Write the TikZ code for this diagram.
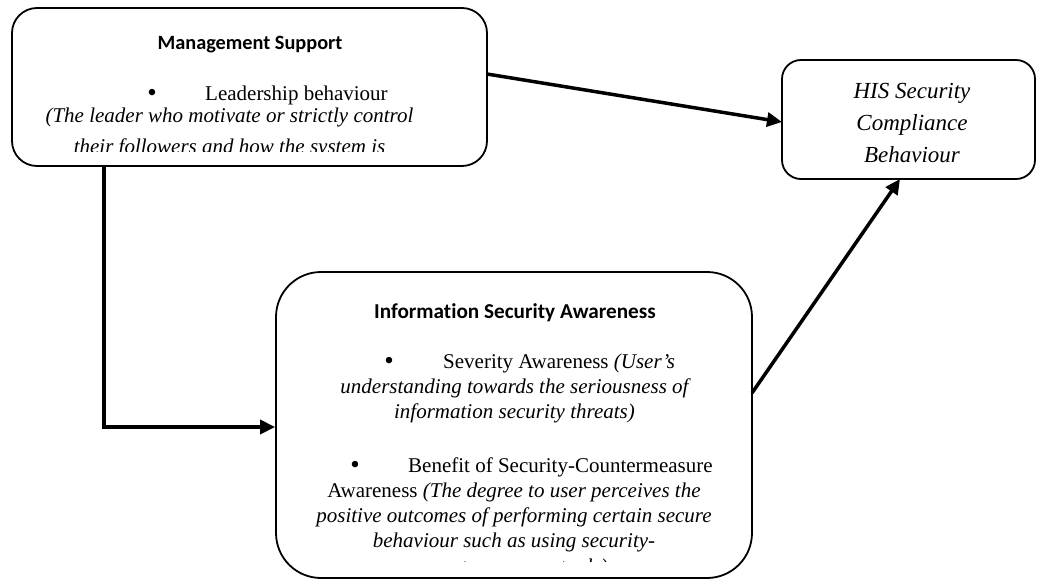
\documentclass[tikz,border=0pt]{standalone}
\usepackage{fontspec}
\setmainfont{Liberation Serif}
\newfontfamily\calibrifont[Ligatures=NoCommon]{Carlito}
\usetikzlibrary{arrows.meta}
\tikzset{
  boxshape/.style={draw, line width=1.8pt, rectangle, inner sep=0pt},
  arr/.style={line width=3.5pt, -{Triangle[length=15pt,width=14pt]}},
  ttl/.style={font=\calibrifont\bfseries\fontsize{20.3}{24}\selectfont, anchor=base, inner sep=0pt},
  txt/.style={font=\fontsize{21}{25}\selectfont, anchor=base, inner sep=0pt},
  txtw/.style={font=\fontsize{21}{25}\selectfont, anchor=base west, inner sep=0pt},
  bul/.style={font=\fontsize{27}{25}\selectfont, anchor=base, inner sep=0pt},
  his/.style={font=\itshape\fontsize{23}{32}\selectfont, anchor=base, inner sep=0pt},
}
\begin{document}
\begin{tikzpicture}[x=1pt,y=-1pt]
\useasboundingbox (0,0) rectangle (1037,581);
% boxes
\node[boxshape, rounded corners=25pt, minimum width=475pt, minimum height=158pt] (ms) at (249.5,87) {};
\node[boxshape, rounded corners=19pt, minimum width=253pt, minimum height=119pt] (hisbox) at (908.5,119.5) {};
\node[boxshape, rounded corners=45pt, minimum width=476pt, minimum height=306pt] (isa) at (514,425) {};
% Management Support text
\node[ttl] (mst) at (250,49) {Management Support};
\node[bul] (msb) at (152,101) {•};
\node[txtw] (ms1) at (205,100) {Leadership behaviour};
\begin{scope}
\clip (12,8) rectangle (487,151.5);
\node[txt] (ms2) at (229.5,122) {\itshape (The leader who motivate or strictly control};
\node[txt] (ms3) at (229.5,153) {\itshape their followers and how the system is};
\end{scope}
% HIS text
\node[his] (h1) at (912,98) {HIS Security};
\node[his] (h2) at (912,130) {Compliance};
\node[his] (h3) at (912,162) {Behaviour};
% ISA text
\node[ttl, font=\calibrifont\bfseries\fontsize{21.2}{24}\selectfont] (isat) at (515,318) {Information Security Awareness};
\node[bul] (isab1) at (389,369) {•};
\node[txtw] (isa1) at (443,368) {Severity Awareness \textit{(User’s}};
\node[txt] (isa2) at (514.5,393) {\itshape understanding towards the seriousness of};
\node[txt] (isa3) at (514.5,418) {\itshape information security threats)};
\node[bul] (isab2) at (355,473) {•};
\node[txtw] (isa4) at (408,472) {Benefit of Security-Countermeasure};
\node[txt] (isa5) at (514,497) {Awareness \textit{(The degree to user perceives the}};
\node[txt] (isa6) at (514,522) {\itshape positive outcomes of performing certain secure};
\node[txt] (isa7) at (514,547) {\itshape behaviour such as using security-};
\begin{scope}
\clip (276,272) rectangle (752,561);
\node[txt] (isa8) at (514,573) {\itshape countermeasure tools)};
\end{scope}
% connectors
\coordinate (a1s) at (487,74);
\coordinate (a1e) at (782,122);
\draw[arr] (a1s) -- (a1e);
\coordinate (a2c) at (104,427);
\draw[arr] (a2c |- ms.south) -- (a2c) -- (a2c -| isa.west);
\coordinate (a3s) at (752,393);
\coordinate (a3e) at (900,179);
\draw[arr] (a3s) -- (a3e);
\end{tikzpicture}
\end{document}
